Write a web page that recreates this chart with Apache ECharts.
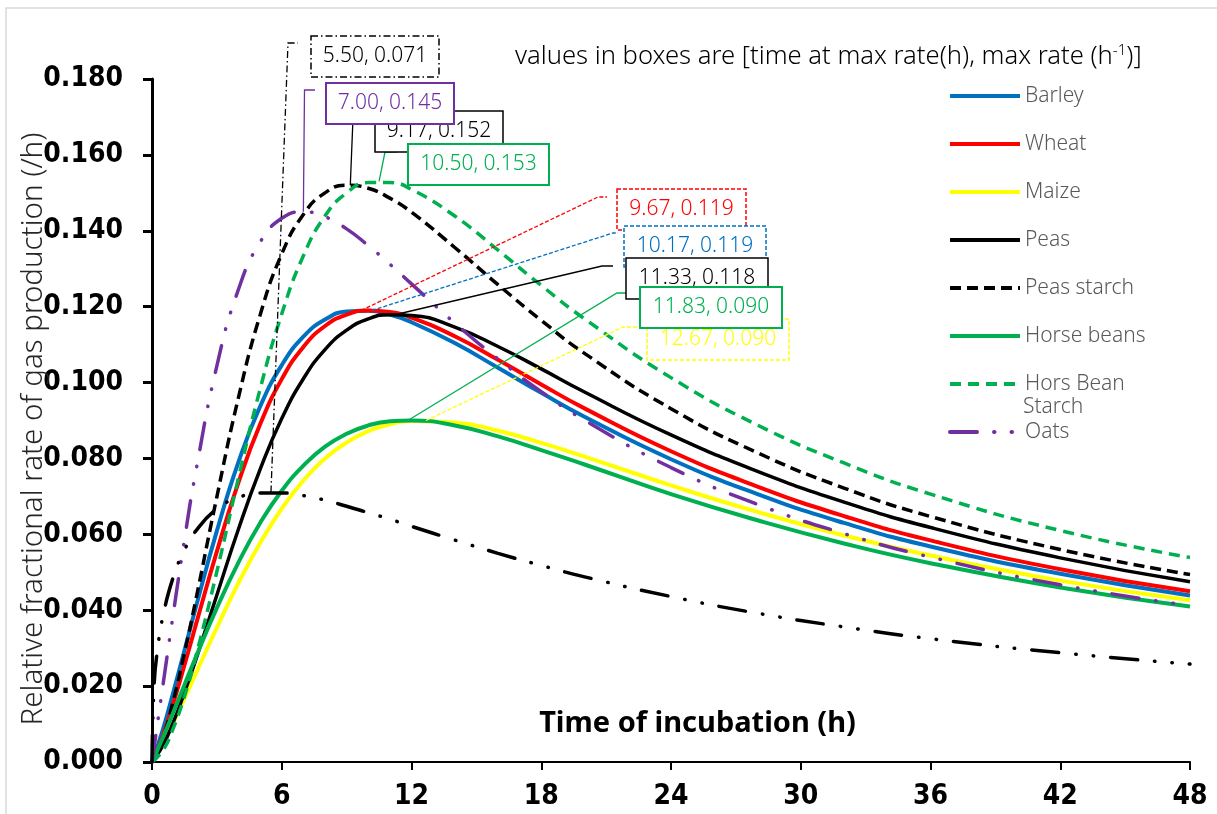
<!DOCTYPE html>
<html><head><meta charset="utf-8">
<script src="https://cdn.jsdelivr.net/npm/echarts@6/dist/echarts.min.js"></script>
<style>html,body{margin:0;padding:0;background:#fff}#c{width:1217px;height:814px}</style>
</head><body><div id="c"></div>
<script>
// ---- data ----
const times = [0, 0.5, 1, 1.5, 2, 3, 4, 5, 6, 7, 8, 9, 10, 11, 12, 14, 16, 18, 20, 24, 28, 32, 36, 42, 48];
const barley      = [0, 0.0085, 0.0187, 0.0294, 0.0402, 0.0609, 0.0791, 0.0937, 0.1046, 0.1121, 0.1166, 0.1187, 0.1189, 0.1179, 0.1159, 0.1104, 0.1039, 0.0973, 0.0910, 0.0798, 0.0706, 0.0630, 0.0568, 0.0496, 0.0439];
const wheat       = [0, 0.0069, 0.0158, 0.0255, 0.0356, 0.0555, 0.0737, 0.0890, 0.1009, 0.1094, 0.1149, 0.1179, 0.1190, 0.1186, 0.1171, 0.1122, 0.1060, 0.0995, 0.0932, 0.0819, 0.0726, 0.0648, 0.0584, 0.0508, 0.0450];
const maize       = [0, 0.0048, 0.0106, 0.0167, 0.0230, 0.0354, 0.0472, 0.0577, 0.0668, 0.0742, 0.0800, 0.0842, 0.0872, 0.0890, 0.0899, 0.0895, 0.0873, 0.0841, 0.0805, 0.0729, 0.0659, 0.0597, 0.0544, 0.0478, 0.0426];
const peas        = [0, 0.0043, 0.0107, 0.0183, 0.0265, 0.0440, 0.0614, 0.0771, 0.0905, 0.1010, 0.1087, 0.1138, 0.1168, 0.1179, 0.1177, 0.1146, 0.1095, 0.1036, 0.0975, 0.0862, 0.0766, 0.0685, 0.0618, 0.0538, 0.0475];
const peasStarch  = [0, 0.0063, 0.0165, 0.0287, 0.0420, 0.0699, 0.0961, 0.1178, 0.1339, 0.1443, 0.1500, 0.1520, 0.1512, 0.1486, 0.1449, 0.1356, 0.1258, 0.1164, 0.1077, 0.0931, 0.0815, 0.0722, 0.0647, 0.0560, 0.0494];
const horseBeans  = [0, 0.0064, 0.0133, 0.0203, 0.0273, 0.0406, 0.0526, 0.0630, 0.0715, 0.0781, 0.0831, 0.0865, 0.0887, 0.0898, 0.0900, 0.0887, 0.0858, 0.0822, 0.0784, 0.0706, 0.0637, 0.0576, 0.0524, 0.0460, 0.0410];
const horsBeanStarch = [0, 0.0030, 0.0091, 0.0173, 0.0272, 0.0502, 0.0749, 0.0983, 0.1181, 0.1334, 0.1439, 0.1500, 0.1527, 0.1527, 0.1509, 0.1439, 0.1349, 0.1256, 0.1168, 0.1013, 0.0888, 0.0788, 0.0706, 0.0610, 0.0539];
const oats        = [0, 0.0200, 0.0397, 0.0585, 0.0757, 0.1044, 0.1246, 0.1370, 0.1433, 0.1450, 0.1437, 0.1405, 0.1361, 0.1312, 0.1260, 0.1157, 0.1062, 0.0976, 0.0901, 0.0776, 0.0679, 0.0602, 0.0540, 0.0467, 0.0412];
const extraTimes  = [0, 0.1, 0.25, 0.5, 1, 1.5, 2, 3, 4, 5, 6, 7, 8, 9, 10, 11, 12, 14, 16, 18, 20, 24, 28, 32, 36, 42, 48];
const extraCurve  = [0, 0.0206, 0.0294, 0.0382, 0.0490, 0.0558, 0.0607, 0.0667, 0.0697, 0.0709, 0.0709, 0.0702, 0.0690, 0.0674, 0.0657, 0.0640, 0.0621, 0.0585, 0.0550, 0.0518, 0.0488, 0.0436, 0.0392, 0.0356, 0.0325, 0.0288, 0.0258];
const seriesNames = ['Barley', 'Wheat', 'Maize', 'Peas', 'Peas starch', 'Horse beans', 'Hors Bean Starch', 'Oats'];
// peak annotations [time at max rate, max rate]
const peakTimes = [5.50, 7.00, 9.17, 10.50, 9.67, 10.17, 11.33, 12.67, 11.83];
const peakRates = [0.071, 0.145, 0.152, 0.153, 0.119, 0.119, 0.118, 0.090, 0.090];
const xMin = 0, xMax = 48, xStep = 6;
const yMin = 0, yMax = 0.18, yStep = 0.02;
const yTitle = 'Relative fractional rate of gas production (/h)';
const xTitle = 'Time of incubation (h)';

// ---- styles ----
const DASHDOTDOT = [27, 17, 0.5, 17, 0.5, 17];
const styles = [
  {color: '#0070C0', type: 'solid', width: 4},
  {color: '#FF0000', type: 'solid', width: 4},
  {color: '#FFFF00', type: 'solid', width: 4},
  {color: '#000000', type: 'solid', width: 3.5},
  {color: '#000000', type: [11, 6], width: 3.5},
  {color: '#00B050', type: 'solid', width: 4},
  {color: '#00B050', type: [11, 7], width: 3.5},
  {color: '#7030A0', type: DASHDOTDOT, width: 3.5, cap: 'round'}
];
const valueArrays = [barley, wheat, maize, peas, peasStarch, horseBeans, horsBeanStarch, oats];
function pairs(ts, vs) { return ts.map((t, i) => [t, vs[i]]); }

const series = seriesNames.map((n, i) => ({
  name: n, type: 'line', data: pairs(times, valueArrays[i]),
  showSymbol: false, symbol: 'none', smooth: 0.5,
  itemStyle: {color: styles[i].color},
  lineStyle: Object.assign({}, styles[i]), z: 2 + i
}));
series.push({
  name: 'extra', type: 'line', data: pairs(extraTimes, extraCurve),
  showSymbol: false, symbol: 'none', smooth: 0.5, itemStyle: {color: '#000'},
  lineStyle: {color: '#000', type: DASHDOTDOT, width: 3.5, cap: 'round'}, z: 12
});

const chart = echarts.init(document.getElementById('c'));
const FONT = "'Noto Sans', 'DejaVu Sans', sans-serif";
const NUMFONT = "'DejaVu Sans Condensed', 'DejaVu Sans', sans-serif";
chart.setOption({
  animation: false,
  backgroundColor: '#fff',
  grid: {left: 152, right: 27, top: 79, bottom: 52, containLabel: false, outerBoundsMode: 'none'},
  legend: {
    data: seriesNames, orient: 'vertical', left: 943, top: 79,
    itemWidth: 70, itemHeight: 14, itemGap: 24, selectedMode: false,
    lineStyle: {width: 4},
    itemStyle: {color: 'rgba(0,0,0,0)', borderWidth: 0, opacity: 0},
    formatter: n => n === 'Hors Bean Starch' ? 'Hors Bean' : n,
    textStyle: {fontFamily: FONT, fontWeight: 300, fontSize: 21, color: '#595959', lineHeight: 24}
  },
  xAxis: {
    type: 'value', min: xMin, max: xMax, interval: xStep,
    name: xTitle, nameLocation: 'middle', nameGap: -53, nameMoveOverlap: false,
    nameTextStyle: {fontFamily: FONT, fontWeight: 'bold', fontSize: 29, color: '#000', padding: [0, 0, 0, 53]},
    axisLine: {lineStyle: {color: '#000', width: 2}},
    axisTick: {length: 8, lineStyle: {color: '#000', width: 2}},
    axisLabel: {margin: 21, fontFamily: NUMFONT, fontWeight: 'bold', fontSize: 28, color: '#000'},
    splitLine: {show: false}
  },
  yAxis: {
    type: 'value', min: yMin, max: yMax, interval: yStep,
    axisLine: {show: true, lineStyle: {color: '#000', width: 3}},
    axisTick: {show: true, length: 9, lineStyle: {color: '#000', width: 3}},
    axisLabel: {margin: 29, fontFamily: NUMFONT, fontWeight: 'bold', fontSize: 28, color: '#000', formatter: v => v.toFixed(3)},
    splitLine: {show: false}
  },
  series: series
});

// ---- annotation boxes (layout in pixels, anchors from data) ----
const boxLayout = [
  {k: 0, x: 311, y: 36, w: 128, h: 41, c: '#000000', tc: '#000000', dash: [7, 3, 1.5, 3], lw: 1.5, lead: [[288, 43], [298, 43]], ldash: [7, 3, 1.5, 3]},
  {k: 2, x: 375, y: 111, w: 128, h: 41, c: '#000000', tc: '#000000', lw: 1.5, lead: [[353, 118], [375, 118]]},
  {k: 1, x: 326, y: 83, w: 128, h: 41, c: '#7030A0', tc: '#7030A0', lw: 2, lead: [[304.5, 90], [315, 90]]},
  {k: 3, x: 408, y: 144, w: 141, h: 41, c: '#00B050', tc: '#00B050', lw: 2, lead: [[385, 152], [397, 152]]},
  {k: 4, x: 617, y: 189, w: 129, h: 41, c: '#FF0000', tc: '#FF0000', dash: [4, 2], lw: 1.5, lead: [[598, 197], [607, 197]], ldash: [4, 2]},
  {k: 5, x: 624, y: 226, w: 142, h: 41, c: '#0070C0', tc: '#0070C0', dash: [4, 2], lw: 1.5, lead: [[613, 233], [618, 233]], ldash: [4, 2]},
  {k: 6, x: 626, y: 258, w: 142, h: 41, c: '#000000', tc: '#000000', lw: 1.5, lead: [[602, 266], [613, 266]]},
  {k: 7, x: 647, y: 319, w: 142, h: 41, c: '#FFFF00', tc: '#FFFF00', dash: [4, 2], lw: 1.5, lead: [[623, 327], [647, 327]], ldash: [4, 2]},
  {k: 8, x: 640, y: 287, w: 142, h: 41, c: '#00B050', tc: '#00B050', lw: 2, lead: [[617, 293], [628, 293]]}
];
const graphics = [];
graphics.push({type: 'rect', silent: true, z: 0, shape: {x: 6, y: 8, width: 1240, height: 840}, style: {fill: null, stroke: '#d9d9d9', lineWidth: 1.5}});
boxLayout.forEach((b, idx) => {
  const p = chart.convertToPixel({gridIndex: 0}, [peakTimes[b.k], peakRates[b.k]]);
  graphics.push({type: 'polyline', silent: true, z: 50 + idx, shape: {points: [p].concat(b.lead)},
    style: {fill: null, stroke: b.c, lineWidth: 1.3, lineDash: b.ldash || null}});
});
boxLayout.forEach((b, idx) => {
  graphics.push({type: 'rect', silent: true, z: 100 + idx * 2, shape: {x: b.x, y: b.y, width: b.w, height: b.h},
    style: {fill: '#fff', stroke: b.c, lineWidth: b.lw, lineDash: b.dash || null}});
  graphics.push({type: 'text', silent: true, z: 101 + idx * 2, x: b.x + b.w / 2, y: b.y + b.h / 2,
    style: {text: peakTimes[b.k].toFixed(2) + ', ' + peakRates[b.k].toFixed(3), fill: b.tc,
      font: "300 21px 'Noto Sans', sans-serif", align: 'center', verticalAlign: 'middle'}});
});
// y-axis title (rotated)
graphics.push({type: 'text', silent: true, z: 120, x: 34, y: 429, rotation: Math.PI / 2,
  style: {text: yTitle, font: "300 29.5px 'Noto Sans', sans-serif", fill: '#262626', align: 'center', verticalAlign: 'middle'}});
// second line of the "Hors Bean Starch" legend label
graphics.push({type: 'text', silent: true, z: 120, x: 1023, y: 407,
  style: {text: 'Starch', font: "300 21px 'Noto Sans', sans-serif", fill: '#595959', verticalAlign: 'middle'}});
graphics.push({type: 'text', silent: true, z: 120, x: 515, y: 57,
  style: {text: '{a|values in boxes are [time at max rate(h), max rate (h}{s|-1}{a|)]}', verticalAlign: 'middle',
    rich: {a: {fontFamily: FONT, fontWeight: 300, fontSize: 25.6, color: '#262626'}, s: {fontFamily: FONT, fontWeight: 300, fontSize: 15, color: '#262626', verticalAlign: 'top', padding: [0, 0, 13, 0]}}}});
chart.setOption({graphic: graphics});
</script></body></html>
